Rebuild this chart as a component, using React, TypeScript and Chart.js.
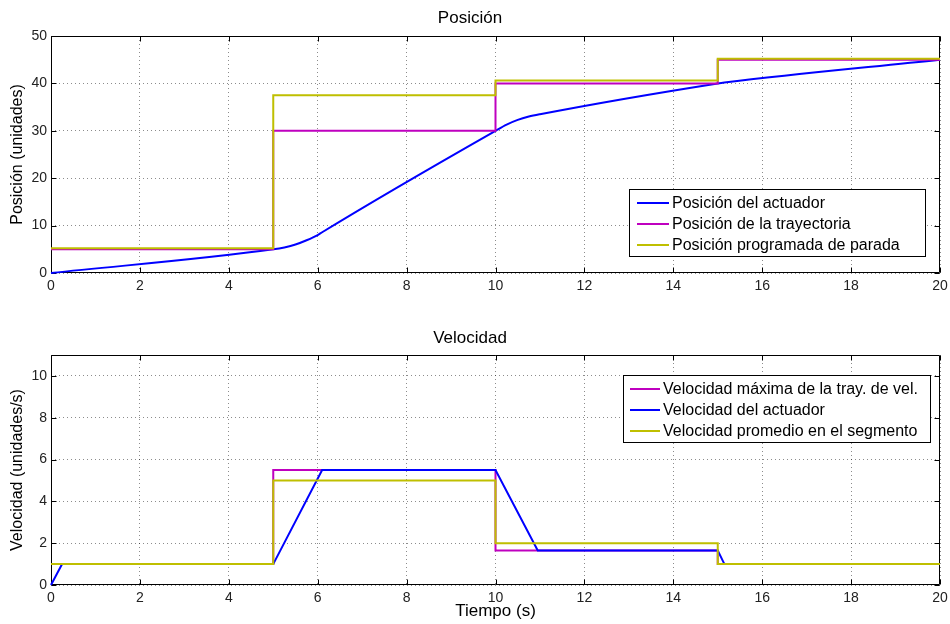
import React, { useEffect, useRef } from "react";
import { Chart, registerables } from "chart.js";

Chart.register(...registerables);

const FONT = '"Liberation Sans", Arial, Helvetica, sans-serif';
Chart.defaults.font.family = FONT;

const BLUE = "#0000ff";
const MAGENTA = "#bf00bf";
const OLIVE = "#bfbf00";
const GRID = "rgba(0,0,0,0.45)";

// ---------- data ----------
const xTickValues = [0, 2, 4, 6, 8, 10, 12, 14, 16, 18, 20];
const posTickValues = [0, 10, 20, 30, 40, 50];
const velTickValues = [0, 2, 4, 6, 8, 10];

// step series (value holds from this time to the next)
const stepTimes = [0, 5, 10, 15, 20];
const positionTrajectory = [5, 30, 40, 45, 45];
const positionStop = [5.2, 37.5, 40.6, 45.2, 45.2];
const velocityMax = [1, 5.5, 1.65, 1, 1];
const velocityAvg = [1, 5, 2, 1, 1];

// actuator position
const actuatorPosTimes = [0, 5, 5.25, 5.5, 5.75, 6, 6.1, 10, 10.25, 10.5, 10.75, 11, 15, 15.15, 20];
const actuatorPosValues = [0, 5, 5.4, 6.0, 6.9, 8.0, 8.6, 30, 31.3, 32.3, 33.0, 33.5, 40, 40.2, 45];

// actuator velocity
const actuatorVelTimes = [0, 0.25, 5, 6.1, 10, 10.95, 15, 15.15, 20];
const actuatorVelValues = [0, 1, 1, 5.5, 5.5, 1.65, 1.65, 1, 1];

const pts = (xs: number[], ys: number[]) => xs.map((x, i) => ({ x, y: ys[i] }));

// ---------- plugins ----------
const matlabAxes = {
  id: "matlabAxes",
  beforeDatasetsDraw(chart: any) {
    const { ctx, chartArea } = chart;
    const xs = chart.scales.x;
    const ys = chart.scales.y;
    const L = Math.round(chartArea.left) + 0.5;
    const R = Math.round(chartArea.right) - 0.5;
    const T = Math.round(chartArea.top) + 0.5;
    const B = Math.round(chartArea.bottom) - 0.5;
    const len = 5;
    ctx.save();
    ctx.setLineDash([]);
    ctx.strokeStyle = "#000";
    ctx.lineWidth = 1;
    ctx.beginPath();
    ctx.rect(L, T, R - L, B - T);
    xs.ticks.forEach((t: any) => {
      const px = Math.round(xs.getPixelForValue(t.value)) + 0.5;
      ctx.moveTo(px, B);
      ctx.lineTo(px, B - len);
      ctx.moveTo(px, T);
      ctx.lineTo(px, T + len);
    });
    ys.ticks.forEach((t: any) => {
      const py = Math.round(ys.getPixelForValue(t.value)) + 0.5;
      ctx.moveTo(L, py);
      ctx.lineTo(L + len, py);
      ctx.moveTo(R, py);
      ctx.lineTo(R - len, py);
    });
    ctx.stroke();
    ctx.restore();
  },
};

const boxLegend = {
  id: "boxLegend",
  afterDatasetsDraw(chart: any, _args: any, opts: any) {
    const { ctx, chartArea } = chart;
    const left = Math.round(chartArea.right - opts.rightInset);
    const top = Math.round(
      opts.anchor === "top"
        ? chartArea.top + opts.inset
        : chartArea.bottom - opts.inset - opts.height
    );
    ctx.save();
    ctx.setLineDash([]);
    ctx.fillStyle = "#fff";
    ctx.fillRect(left, top, opts.width, opts.height);
    ctx.strokeStyle = "#000";
    ctx.lineWidth = 1;
    ctx.strokeRect(left + 0.5, top + 0.5, opts.width, opts.height);
    ctx.font = `16px ${FONT}`;
    ctx.textBaseline = "middle";
    ctx.textAlign = "left";
    opts.order.forEach((di: number, i: number) => {
      const ds = chart.data.datasets[di];
      const cy = Math.round(top + opts.firstRow + i * opts.rowGap);
      ctx.strokeStyle = ds.borderColor;
      ctx.lineWidth = 2;
      ctx.beginPath();
      ctx.moveTo(left + opts.padLeft, cy);
      ctx.lineTo(left + opts.padLeft + opts.lineLen, cy);
      ctx.stroke();
      ctx.fillStyle = "#000";
      ctx.fillText(ds.label, left + opts.padLeft + opts.lineLen + 3, cy + 1);
    });
    ctx.restore();
  },
};

// ---------- config builders ----------
function xScale(showTitle: boolean, height: number) {
  return {
    type: "linear",
    min: 0,
    max: 20,
    afterBuildTicks: (s: any) => {
      s.ticks = xTickValues.map((v) => ({ value: v }));
    },
    afterFit: (s: any) => {
      s.height = height;
      s.paddingLeft = 0;
      s.paddingRight = 0;
    },
    grid: { color: GRID, lineWidth: 1, drawTicks: false, borderDash: [1, 3] },
    border: { display: false, dash: [1, 3] },
    ticks: { font: { size: 14 }, color: "#222", padding: 5, maxRotation: 0, autoSkip: false },
    title: {
      display: showTitle,
      text: "Tiempo (s)",
      color: "#000",
      font: { size: 17 },
      padding: { top: 0, bottom: 2 },
    },
  };
}

function yScale(max: number, tickValues: number[], label: string) {
  return {
    type: "linear",
    min: 0,
    max,
    afterBuildTicks: (s: any) => {
      s.ticks = tickValues.map((v) => ({ value: v }));
    },
    afterFit: (s: any) => {
      s.width = 51;
    },
    grid: { color: GRID, lineWidth: 1, drawTicks: false, borderDash: [1, 3] },
    border: { display: false, dash: [1, 3] },
    ticks: { font: { size: 14 }, color: "#222", padding: 4, includeBounds: false },
    title: {
      display: true,
      text: label,
      color: "#000",
      font: { size: 16 },
      padding: { top: 8, bottom: 0 },
    },
  };
}

const lineDs = (label: string, color: string, data: any[], order: number, extra: any = {}) => ({
  label,
  data,
  borderColor: color,
  backgroundColor: color,
  borderWidth: 2,
  pointRadius: 0,
  fill: false,
  order,
  clip: 5,
  ...extra,
});

function positionConfig(): any {
  return {
    type: "line",
    data: {
      datasets: [
        lineDs("Posición del actuador", BLUE, pts(actuatorPosTimes, actuatorPosValues), 2, {
          cubicInterpolationMode: "monotone",
        }),
        lineDs("Posición de la trayectoria", MAGENTA, pts(stepTimes, positionTrajectory), 1, { stepped: true }),
        lineDs("Posición programada de parada", OLIVE, pts(stepTimes, positionStop), 0, { stepped: true }),
      ],
    },
    options: {
      responsive: false,
      animation: false,
      devicePixelRatio: 1,
      layout: { padding: { left: 0, right: 10, top: 0, bottom: 0 } },
      scales: {
        x: xScale(false, 27),
        y: yScale(50, posTickValues, "Posición (unidades)"),
      },
      plugins: {
        legend: { display: false },
        tooltip: { enabled: false },
        title: {
          display: true,
          text: "Posición",
          color: "#000",
          font: { size: 17, weight: "normal" },
          padding: { top: 8, bottom: 7.6 },
        },
        boxLegend: {
          anchor: "bottom",
          inset: 17,
          rightInset: 311,
          width: 296,
          height: 67,
          firstRow: 14,
          rowGap: 20.8,
          padLeft: 8,
          lineLen: 32,
          order: [0, 1, 2],
        },
      },
    },
    plugins: [matlabAxes, boxLegend],
  };
}

function velocityConfig(): any {
  return {
    type: "line",
    data: {
      datasets: [
        lineDs("Velocidad máxima de la tray. de vel.", MAGENTA, pts(stepTimes, velocityMax), 2, { stepped: true }),
        lineDs("Velocidad del actuador", BLUE, pts(actuatorVelTimes, actuatorVelValues), 1),
        lineDs("Velocidad promedio en el segmento", OLIVE, pts(stepTimes, velocityAvg), 0, { stepped: true }),
      ],
    },
    options: {
      responsive: false,
      animation: false,
      devicePixelRatio: 1,
      layout: { padding: { left: 0, right: 10, top: 0, bottom: 0 } },
      scales: {
        x: xScale(true, 39),
        y: yScale(11, velTickValues, "Velocidad (unidades/s)"),
      },
      plugins: {
        legend: { display: false },
        tooltip: { enabled: false },
        title: {
          display: true,
          text: "Velocidad",
          color: "#000",
          font: { size: 17, weight: "normal" },
          padding: { top: 27.8, bottom: 6.8 },
        },
        boxLegend: {
          anchor: "top",
          inset: 20,
          rightInset: 317,
          width: 307,
          height: 67,
          firstRow: 14.3,
          rowGap: 20.7,
          padLeft: 7,
          lineLen: 30,
          order: [0, 1, 2],
        },
      },
    },
    plugins: [matlabAxes, boxLegend],
  };
}

function ChartCanvas({ build, height, top }: { build: () => any; height: number; top: number }) {
  const ref = useRef<HTMLCanvasElement | null>(null);
  useEffect(() => {
    const chart = new Chart(ref.current as HTMLCanvasElement, build());
    return () => chart.destroy();
  }, []);
  return (
    <canvas
      ref={ref}
      width={950}
      height={height}
      style={{ position: "absolute", left: 0, top, width: 950, height, display: "block" }}
    />
  );
}

export default function App() {
  return (
    <div style={{ position: "absolute", left: 0, top: 0, width: 950, height: 624, background: "#fff" }}>
      <ChartCanvas build={positionConfig} height={300} top={0} />
      <ChartCanvas build={velocityConfig} height={324} top={300} />
    </div>
  );
}
